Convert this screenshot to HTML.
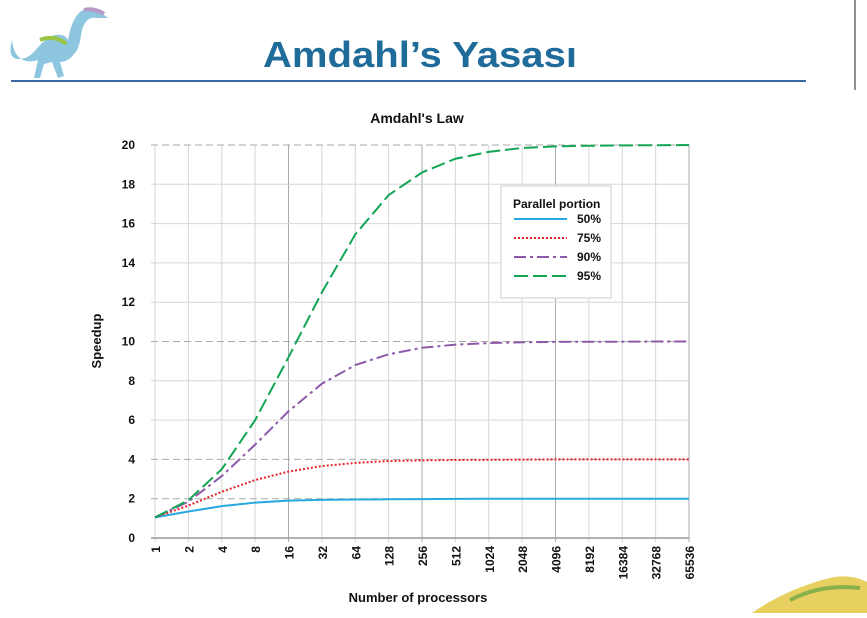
<!DOCTYPE html>
<html><head><meta charset="utf-8"><style>
body{margin:0;width:867px;height:613px;background:#fff;overflow:hidden;font-family:"Liberation Sans",sans-serif}
</style></head><body>
<svg width="867" height="613" xmlns="http://www.w3.org/2000/svg">
<g>
<path d="M12,40 C8,55 12,62 25,58 C35,55 40,40 55,35 C62,34 66,36 68,40 C70,30 72,20 80,12 C85,8 92,8 100,12 L108,18 L96,18 C90,16 84,22 82,30 C80,40 80,48 74,54 C70,60 64,62 60,62 L64,76 L58,78 L52,62 L44,64 L40,78 L34,78 L38,60 C26,64 14,60 12,40 Z" fill="#8ec6e0"/>
<path d="M40,40 C50,36 60,38 66,44" stroke="#9bc545" stroke-width="4" fill="none"/>
<path d="M84,10 C90,8 98,10 104,14" stroke="#b79ac6" stroke-width="4" fill="none"/>
</g>
<text x="263" y="67" font-size="36" font-weight="bold" fill="#1f6b9a" textLength="314" lengthAdjust="spacingAndGlyphs">Amdahl’s Yasası</text>
<line x1="11" y1="81" x2="806" y2="81" stroke="#3b6aa0" stroke-width="2"/>
<line x1="855" y1="0" x2="855" y2="90" stroke="#222" stroke-width="1"/>
<g>
<path d="M752,613 C770,600 800,585 830,578 C845,574 860,578 867,582 L867,613 Z" fill="#e8d060"/>
<path d="M790,600 C810,590 830,585 860,588" stroke="#8ab04a" stroke-width="4" fill="none"/>
</g>
<text x="417" y="123" text-anchor="middle" font-size="14" font-weight="bold" fill="#111">Amdahl's Law</text>
<g id="plot"></g>
<text x="418" y="602" text-anchor="middle" font-size="13" font-weight="bold" fill="#111">Number of processors</text>
<text transform="translate(101,341) rotate(-90)" text-anchor="middle" font-size="13" font-weight="bold" fill="#111">Speedup</text>
</svg>
<script>
const categories=["1","2","4","8","16","32","64","128","256","512","1024","2048","4096","8192","16384","32768","65536"];
const yTicks=[0,2,4,6,8,10,12,14,16,18,20];
const seriesNames=["50%","75%","90%","95%"];
const s50=[1.05,1.35,1.62,1.8,1.9,1.94,1.96,1.97,1.98,1.99,2,2,2,2,2,2,2];
const s75=[1.05,1.65,2.35,2.95,3.38,3.66,3.82,3.92,3.95,3.97,3.98,3.99,4,4,4,4,4];
const s90=[1.05,1.85,3.15,4.75,6.45,7.85,8.8,9.35,9.68,9.84,9.92,9.96,9.98,9.99,9.99,10,10];
const s95=[1.05,1.92,3.5,6,9.2,12.5,15.45,17.45,18.6,19.3,19.65,19.85,19.93,19.96,19.98,19.99,20];
const NS="http://www.w3.org/2000/svg";
const g=document.getElementById('plot');
const X0=155,X1=689,Y0=538,Y1=145;
function xs(i){return X0+(X1-X0)*i/(categories.length-1);}
function ys(v){return Y0-(Y0-Y1)*v/20;}
function mk(t,a,p){const e=document.createElementNS(NS,t);for(const k in a)e.setAttribute(k,a[k]);(p||g).appendChild(e);return e;}
categories.forEach((c,i)=>{
 const l=mk('line',{x1:xs(i),x2:xs(i),y1:Y1,y2:Y0+4,stroke:(i%4==0&&i>0)?'#aaa':'#d6d6d6','stroke-width':1});
 
 
 const t=mk('text',{transform:`translate(${xs(i)+5},${Y0+8}) rotate(-90)`,'text-anchor':'end','font-size':12,'font-weight':'bold',fill:'#111'});
 t.textContent=c;
 
 
});
yTicks.forEach(v=>{
 const dashed=(v==2||v==4||v==10||v==20);
 const l=mk('line',{x1:X0-4,x2:X1,y1:ys(v),y2:ys(v),stroke:v==0?'#999':(dashed?'#aaa':'#d6d6d6'),'stroke-width':v==0?1.5:1,'stroke-dasharray':dashed?'7,4':'none'});
 
 
 const t=mk('text',{x:X0-20,y:ys(v)+4,'text-anchor':'end','font-size':12,'font-weight':'bold',fill:'#111'});
 t.textContent=v;
 
 
});
const styles=[{c:'#29a9e0',d:'none',w:2},{c:'#e8202a',d:'2,2',w:2},{c:'#8c5aa8',d:'12,4,3,4',w:2},{c:'#13a556',d:'14,5',w:2}];
[s50,s75,s90,s95].forEach((s,k)=>{
 const p=mk('polyline',{points:s.map((v,i)=>xs(i)+','+ys(v)).join(' '),fill:'none',stroke:styles[k].c,'stroke-width':styles[k].w,'stroke-dasharray':styles[k].d});
 
 
});
const lg=mk('g',{});


mk('rect',{x:501,y:186,width:110,height:112,fill:'#fff',stroke:'#ccc'},lg);
const lt=mk('text',{x:513,y:208,'font-size':12,'font-weight':'bold',fill:'#111'},lg);
lt.textContent='Parallel portion';
seriesNames.forEach((n,k)=>{
 const y=223+k*19;
 const e=mk('g',{},lg);
 
 
 mk('line',{x1:514,x2:567,y1:y-4,y2:y-4,stroke:styles[k].c,'stroke-width':2,'stroke-dasharray':styles[k].d},e);
 const t=mk('text',{x:577,y:y,'font-size':12,'font-weight':'bold',fill:'#111'},e);
 t.textContent=n;
});
</script>
</body></html>
